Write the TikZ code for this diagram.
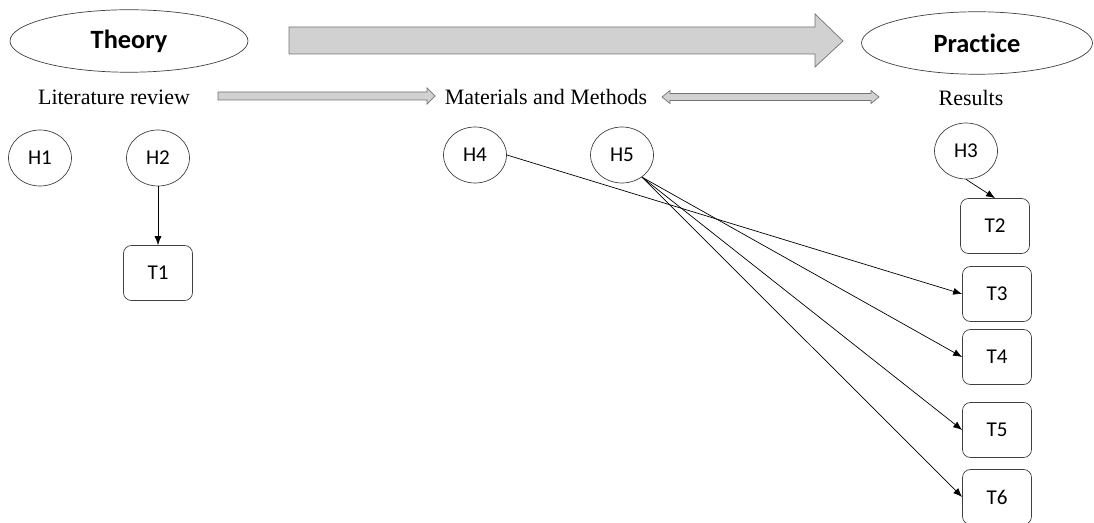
\documentclass[tikz,border=0pt]{standalone}
\usepackage{fontspec}
\setmainfont{Liberation Serif}
\newfontfamily\calib[Ligatures=NoCommon]{Carlito}
\usepackage{tikz}
\usetikzlibrary{arrows.meta,shapes.geometric}

\begin{document}
\begin{tikzpicture}[>={Latex[length=1.8mm,width=1.4mm]},x=0.02cm,y=-0.02cm,
    hyp/.style={draw=black!75,ellipse,minimum width=1.26cm,minimum height=1.12cm,inner sep=0pt,font=\calib\fontsize{12}{14}\selectfont},
    task/.style={draw=black!75,rounded corners=4.5pt,minimum width=1.38cm,minimum height=1.1cm,inner sep=0pt,font=\calib\fontsize{12}{14}\selectfont},
    phase/.style={draw=black!75,ellipse,minimum height=1.25cm,inner sep=0pt,font=\calib\bfseries\fontsize{15}{18}\selectfont},
    stage/.style={font=\fontsize{12.5}{15}\selectfont,inner sep=0pt},
    blockarrow/.style={draw=black!55,fill=black!18,line join=miter}]
    \useasboundingbox (0,0) rectangle (1094,523);
    \node[phase,minimum width=4.76cm] (theory) at (129,41) {Theory};
    \node[phase,minimum width=4.62cm] (practice) at (977,43) {Practice};
    \draw[blockarrow] (289,27) -- (815,27) -- (815,14) -- (843,41) -- (815,67) -- (815,54) -- (289,54) -- cycle;
    \node[stage] (lit) at (114,97) {Literature review};
    \node[stage] (mm) at (546,97) {Materials and Methods};
    \node[stage] (res) at (971,98) {Results};
    \draw[blockarrow] (218,92) -- (427,92) -- (427,88) -- (435,96) -- (427,104) -- (427,100) -- (218,100) -- cycle;
    \draw[blockarrow] (662,97) -- (670,90.5) -- (670,93.5) -- (871,93.5) -- (871,90.5) -- (879,97)
      -- (871,103.5) -- (871,100.5) -- (670,100.5) -- (670,103.5) -- cycle;
    \node[hyp] (h1) at (40,158) {H1};
    \node[hyp] (h2) at (158,158) {H2};
    \node[hyp] (h4) at (475,155) {H4};
    \node[hyp] (h5) at (622,155) {H5};
    \node[hyp] (h3) at (966,151) {H3};
    \node[task] (t1) at (158,273) {T1};
    \node[task] (t2) at (995,226) {T2};
    \node[task] (t3) at (997,294) {T3};
    \node[task] (t4) at (997,357) {T4};
    \node[task] (t5) at (997,430) {T5};
    \node[task] (t6) at (997,497) {T6};
    \draw[->] (h2) -- (t1);
    \draw[->] (h3.south) -- (t2.north);
    \draw[->] (h4.east) -- (t3.west);
    \foreach \t in {t4,t5,t6}{
      \draw[->] (h5.-48) -- (\t.west);
    }
  \end{tikzpicture}
\end{document}
